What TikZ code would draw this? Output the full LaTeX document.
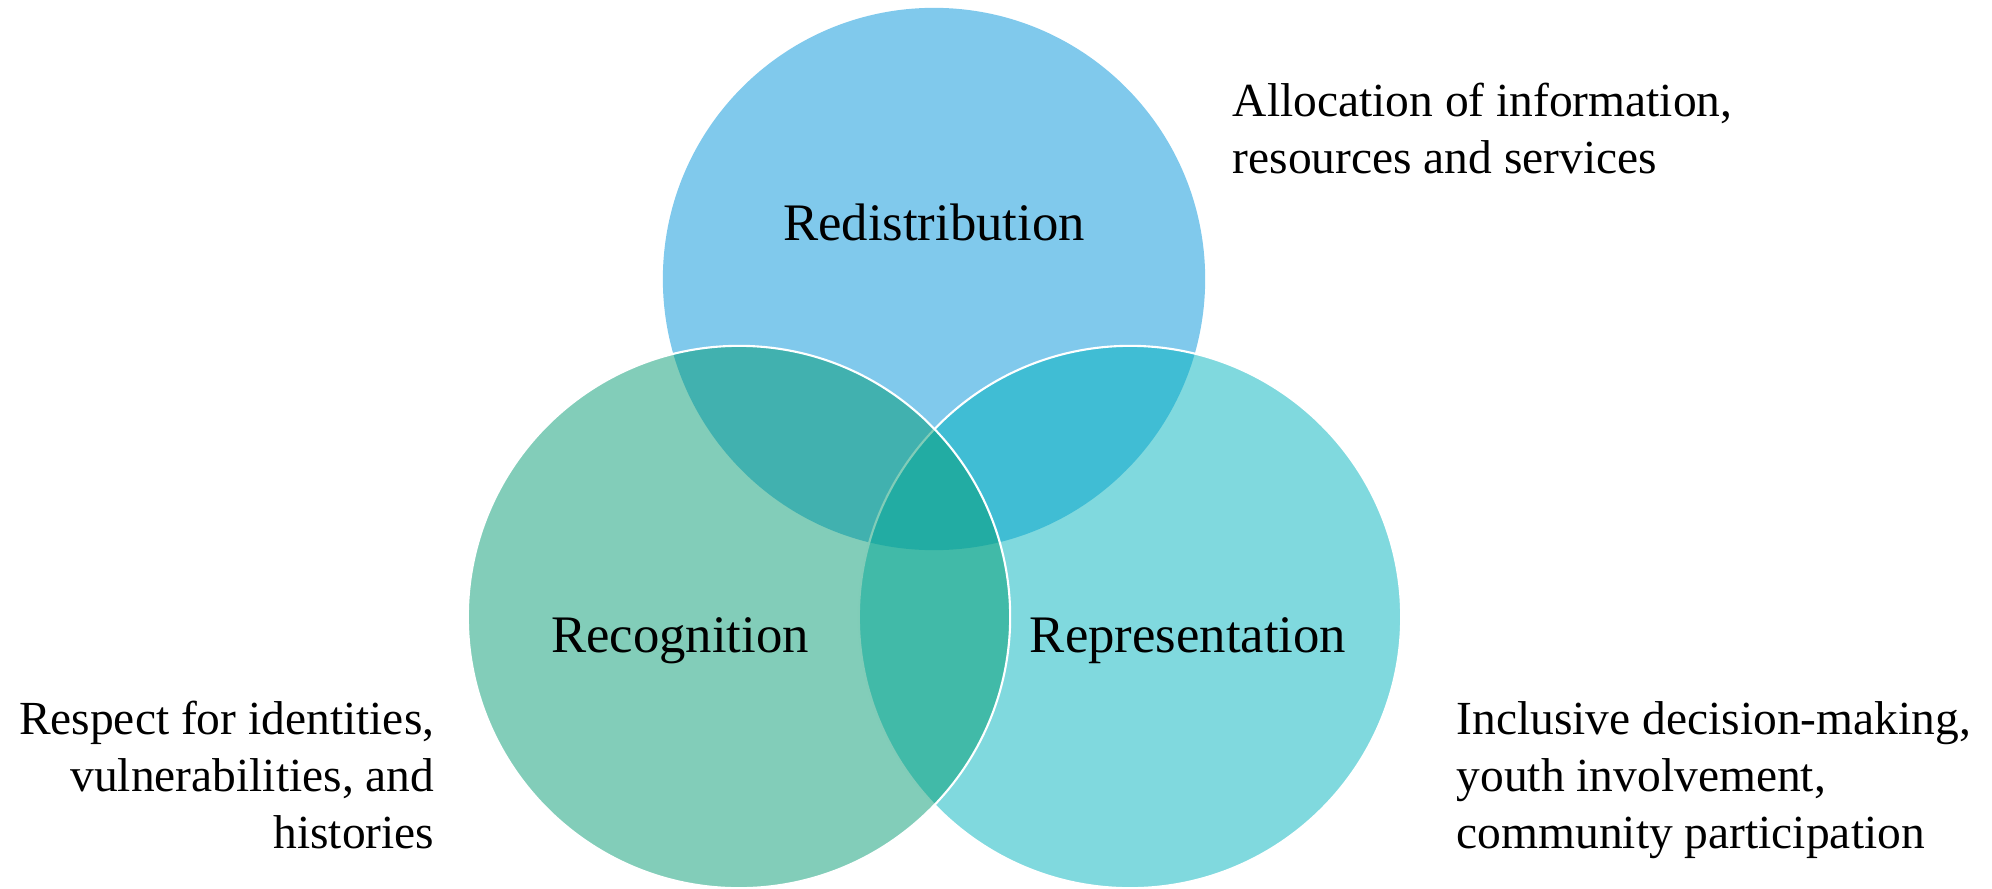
\documentclass[tikz,border=0pt]{standalone}
\usepackage{fontspec}
\setmainfont{Liberation Serif}

\definecolor{redistcol}{RGB}{1,147,217}
\definecolor{recogcol}{RGB}{5,155,115}
\definecolor{reprcol}{RGB}{1,179,189}

\tikzset{
  ring/.style={draw=white, line width=0.6pt, fill opacity=0.5},
  title/.style={font=\fontsize{15}{18}\selectfont, inner sep=0pt, anchor=base},
  note/.style={font=\fontsize{13.5}{16.1}\selectfont, inner sep=0pt},
}

\begin{document}
\begin{tikzpicture}[x=0.01cm,y=-0.01cm]
        \useasboundingbox (0,0) rectangle (1992,888);
        %% Circles (top one has no rim)
        \fill[redistcol, fill opacity=0.5] (934,279) circle (2.71cm);
        \draw[ring, fill=reprcol] (1130,617) circle (2.71cm);
        \draw[ring, fill=recogcol] (739,617) circle (2.71cm);
        %% Circle titles
        \node[title] (redist) at (934,240) {Redistribution};
        \node[title] (recog) at (680,652) {Recognition};
        \node[title] (repr) at (1188,652) {Representation};
        %% Descriptions (base = last line)
        \node[note, align=left, anchor=base west] (alloc) at (1232,173)
            {Allocation of information,\\resources and services};
        \node[note, align=right, anchor=base east] (respect) at (435,848)
            {Respect for identities,\\vulnerabilities, and\\histories};
        \node[note, align=left, anchor=base west] (incl) at (1456,848)
            {Inclusive decision-making,\\youth involvement,\\community participation};
    \end{tikzpicture}
\end{document}
